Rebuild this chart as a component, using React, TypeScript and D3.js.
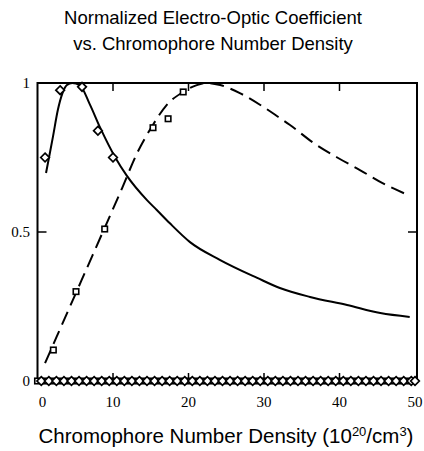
import React from "react";
import * as d3 from "d3";

// Solid curve: normalized r33 for the first chromophore family
const solidX = [1.13, 1.6, 2.05, 2.7, 3.3, 3.9, 4.6, 5.6, 6.9, 8.3, 10.3, 11.8, 14.5, 15.8, 17.5, 20.2, 24.2, 29.1, 32.1, 36.1, 41.0, 45.4, 49.3];
const solidY = [0.698, 0.76, 0.82, 0.91, 0.965, 0.993, 1.0, 0.993, 0.93, 0.85, 0.75, 0.69, 0.607, 0.574, 0.53, 0.466, 0.406, 0.346, 0.312, 0.282, 0.255, 0.228, 0.215];

// Dashed curve: normalized r33 for the second chromophore family
const dashX = [1.0, 5.0, 9.0, 11.0, 13.2, 15.3, 17.1, 19.3, 21.1, 22.4, 24.2, 26.8, 29.9, 31.9, 33.4, 36.5, 39.7, 42.7, 45.7, 49.1];
const dashY = [0.06, 0.29, 0.52, 0.635, 0.765, 0.86, 0.926, 0.97, 0.993, 1.0, 0.993, 0.966, 0.92, 0.886, 0.86, 0.80, 0.75, 0.708, 0.664, 0.624];

// Measured points (diamonds and squares)
const diamondX = [1.0, 3.0, 5.9, 8.0, 10.0];
const diamondY = [0.75, 0.976, 0.987, 0.84, 0.75];
const squareX = [2.1, 5.1, 8.9, 15.3, 17.3, 19.3];
const squareY = [0.104, 0.30, 0.51, 0.85, 0.88, 0.97];

// Zero-level rows along the axis
const zeroSquareX = [0, 1, 2, 3, 4, 5, 6, 7, 8, 9, 10, 11, 12, 13, 14, 15, 16, 17, 18, 19, 20, 21, 22, 23, 24, 25, 26, 27, 28, 29, 30, 31, 32, 33, 34, 35, 36, 37, 38, 39, 40, 41, 42, 43, 44, 45, 46, 47, 48, 49];
const zeroDiamondX = [0.5, 1.5, 2.5, 3.5, 4.5, 5.5, 6.5, 7.5, 8.5, 9.5, 10.5, 11.5, 12.5, 13.5, 14.5, 15.5, 16.5, 17.5, 18.5, 19.5, 20.5, 21.5, 22.5, 23.5, 24.5, 25.5, 26.5, 27.5, 28.5, 29.5, 30.5, 31.5, 32.5, 33.5, 34.5, 35.5, 36.5, 37.5, 38.5, 39.5, 40.5, 41.5, 42.5, 43.5, 44.5, 45.5, 46.5, 47.5, 48.5, 49.5, 50];

const xTicks = [0, 10, 20, 30, 40, 50];
const yTicks = [0, 0.5, 1];
const yTickLabels = ["0", "0.5", "1"];

const W = 424;
const H = 451;
const left = 37.5;
const right = 417;
const top = 83;
const bottom = 381;

export default function App() {
  const x = d3.scaleLinear().domain([0, 50]).range([left, 415]);
  const y = d3.scaleLinear().domain([0, 1]).range([bottom, top]);

  const line = d3
    .line<[number, number]>()
    .x((d) => x(d[0]))
    .y((d) => y(d[1]))
    .curve(d3.curveMonotoneX);

  const solidPts = solidX.map((v, i) => [v, solidY[i]] as [number, number]);
  const dashPts = dashX.map((v, i) => [v, dashY[i]] as [number, number]);

  const diamond = (cx: number, cy: number, key: string) => {
    const r = 4.3;
    return (
      <path
        key={key}
        d={`M${cx},${cy - r}L${cx + r},${cy}L${cx},${cy + r}L${cx - r},${cy}Z`}
        fill="white"
        stroke="black"
        strokeWidth={1.7}
      />
    );
  };
  const square = (cx: number, cy: number, key: string) => {
    const s = 5.5;
    return (
      <rect
        key={key}
        x={cx - s / 2}
        y={cy - s / 2}
        width={s}
        height={s}
        fill="white"
        stroke="black"
        strokeWidth={1.6}
      />
    );
  };

  const serif = "'Liberation Serif', 'Times New Roman', serif";
  const sans = "'Liberation Sans', Arial, Helvetica, sans-serif";

  return (
    <svg
      width={W}
      height={H}
      style={{ position: "absolute", left: 0, top: 0, background: "white" }}
    >
      <rect x={0} y={0} width={W} height={H} fill="white" />
      <text x={213} y={24} textAnchor="middle" fontFamily={sans} fontSize={18.5}>
        Normalized Electro-Optic Coefficient
      </text>
      <text x={213} y={50} textAnchor="middle" fontFamily={sans} fontSize={18.5}>
        vs. Chromophore Number Density
      </text>

      {/* frame */}
      <rect x={left} y={top} width={right - left} height={bottom - top} fill="none" stroke="black" strokeWidth={2} />

      {/* inward ticks */}
      {xTicks.slice(1, -1).map((t) => (
        <g key={`xt${t}`}>
          <line x1={x(t)} x2={x(t)} y1={bottom} y2={bottom - 8} stroke="black" strokeWidth={1.5} />
          <line x1={x(t)} x2={x(t)} y1={top} y2={top + 8} stroke="black" strokeWidth={1.5} />
        </g>
      ))}
      <line x1={left} x2={left + 9} y1={y(0.5)} y2={y(0.5)} stroke="black" strokeWidth={1.5} />
      <line x1={right} x2={right - 9} y1={y(0.5)} y2={y(0.5)} stroke="black" strokeWidth={1.5} />

      {/* tick labels */}
      {xTicks.map((t) => (
        <text key={`xl${t}`} x={x(t) + (t === 0 ? 5 : 0)} y={407} textAnchor="middle" fontFamily={serif} fontSize={15}>
          {t}
        </text>
      ))}
      {yTicks.map((t, i) => (
        <text key={`yl${t}`} x={30} y={y(t) + 5} textAnchor="end" fontFamily={serif} fontSize={15}>
          {yTickLabels[i]}
        </text>
      ))}

      {/* curves */}
      <path d={line(solidPts) ?? ""} fill="none" stroke="black" strokeWidth={2} />
      <path d={line(dashPts) ?? ""} fill="none" stroke="black" strokeWidth={2} strokeDasharray="14,7" />

      {/* zero rows */}
      {zeroSquareX.map((v, i) => square(x(v), y(0), `zs${i}`))}
      {zeroDiamondX.map((v, i) => diamond(x(v), y(0), `zd${i}`))}

      {/* measured points */}
      {diamondX.map((v, i) => diamond(x(v), y(diamondY[i]), `d${i}`))}
      {squareX.map((v, i) => square(x(v), y(squareY[i]), `s${i}`))}

      <text x={226} y={443} textAnchor="middle" fontFamily={sans} fontSize={20.5}>
        Chromophore Number Density (10
        <tspan dy={-7} fontSize={13}>20</tspan>
        <tspan dy={7}>/cm</tspan>
        <tspan dy={-7} fontSize={13}>3</tspan>
        <tspan dy={7}>)</tspan>
      </text>
    </svg>
  );
}
